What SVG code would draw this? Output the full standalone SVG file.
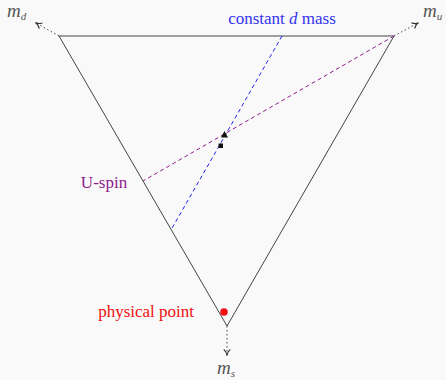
<svg xmlns="http://www.w3.org/2000/svg" width="446" height="380" viewBox="0 0 446 380">
<style>
text{font-family:"Liberation Serif","Times New Roman",serif}
.t{font-size:17px}
.m{font-size:19px;font-style:italic;fill:#555}
.sub{font-size:11px}
.ax{stroke:#444;stroke-width:1;stroke-dasharray:1.5 2.5;fill:none}
</style>
<defs>
<marker id="ah" viewBox="0 0 10 10" refX="8" refY="5" markerWidth="8" markerHeight="8" markerUnits="userSpaceOnUse" orient="auto">
<path d="M1,1 Q5,5 9,5 Q5,5 1,9" fill="none" stroke="#333" stroke-width="1.4"/>
</marker>
</defs>
<rect width="446" height="380" fill="#f9f9f9"/>
<g id="axes">
<line class="ax" x1="59" y1="36" x2="36" y2="23" marker-end="url(#ah)"/>
<line class="ax" x1="394" y1="36" x2="418" y2="23" marker-end="url(#ah)"/>
<line class="ax" x1="227" y1="326" x2="227" y2="355" marker-end="url(#ah)"/>
</g>
<g id="triangle">
<polygon points="59,36 394,36 227,326" fill="none" stroke="#444" stroke-width="1"/>
</g>
<g id="connectors">
<line x1="282" y1="36" x2="171" y2="230" stroke="#2222ee" stroke-width="1" stroke-dasharray="4 3"/>
<line x1="394" y1="36" x2="143" y2="181" stroke="#8e1a8e" stroke-width="1" stroke-dasharray="4 3"/>
</g>
<g id="markers">
<polygon points="224.5,131 221,137.5 228,137.5" fill="#111"/>
<rect x="218.5" y="143.5" width="4.5" height="4.5" fill="#111"/>
<circle cx="224" cy="312" r="3.8" fill="#ee1111"/>
</g>
<g id="labels">
<text class="t" x="282" y="24" text-anchor="middle" fill="#3333ee">constant <tspan font-style="italic">d</tspan> mass</text>
<text class="t" x="104" y="188" text-anchor="middle" fill="#8e1a8e">U-spin</text>
<text class="t" x="194" y="317" text-anchor="end" fill="#ee1111">physical point</text>
<text class="m" x="7" y="17">m<tspan class="sub" dy="3">d</tspan></text>
<text class="m" x="423" y="17">m<tspan class="sub" dy="3">u</tspan></text>
<text class="m" x="217" y="374">m<tspan class="sub" dy="3">s</tspan></text>
</g>
</svg>
